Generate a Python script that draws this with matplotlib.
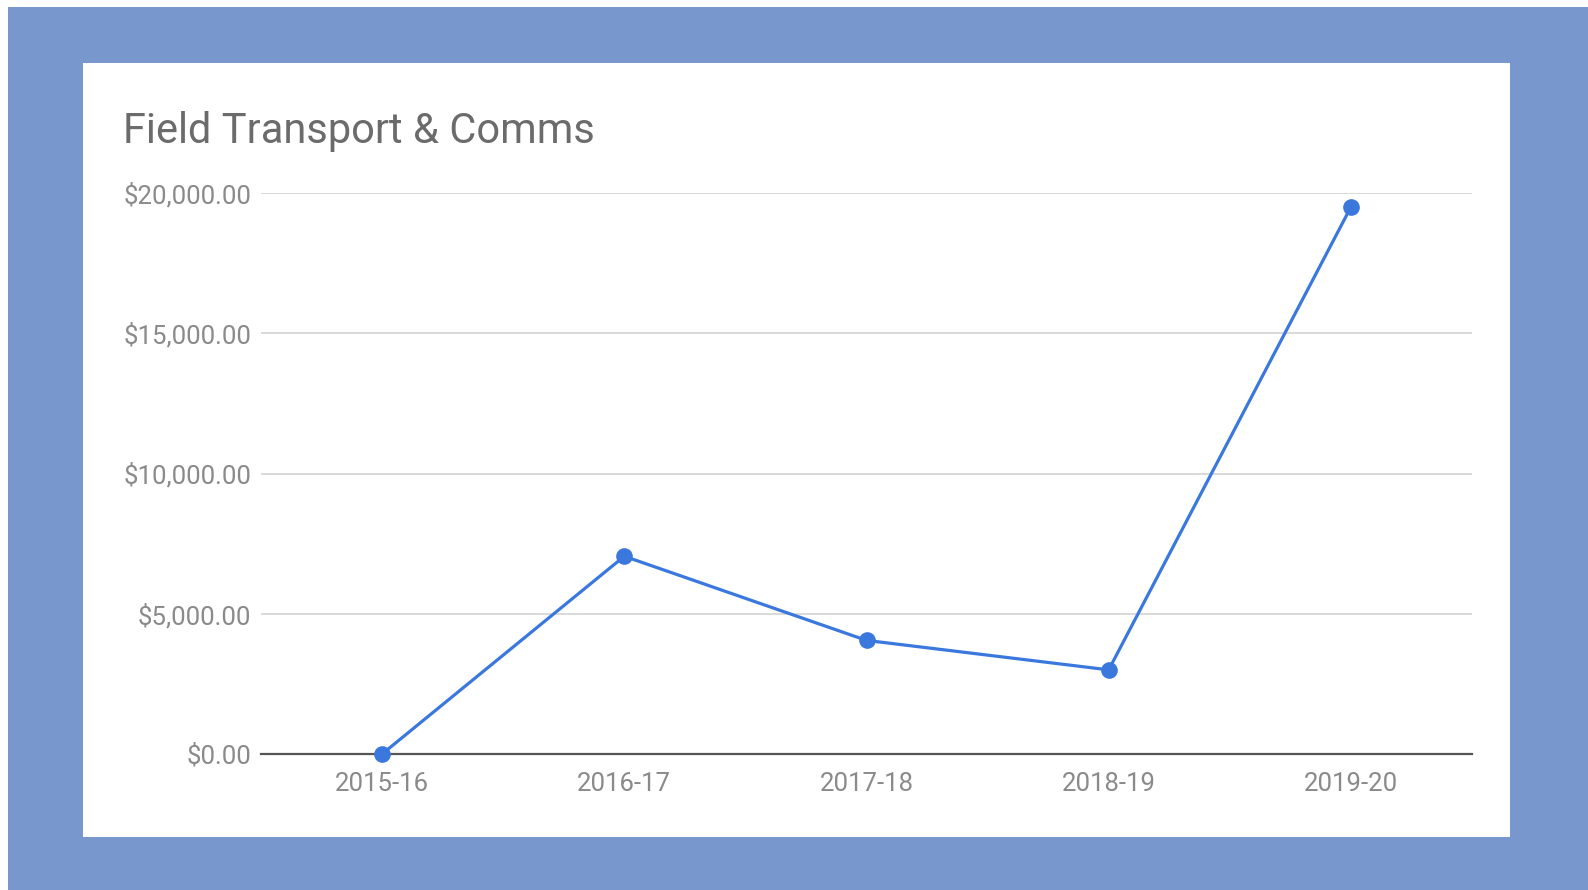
import matplotlib
matplotlib.use("Agg")
import matplotlib.pyplot as plt
from matplotlib.patches import Rectangle

# Fiscal years and spend per year
years = ["2015-16", "2016-17", "2017-18", "2018-19", "2019-20"]
spend = [0, 7050, 4050, 3000, 19500]
y_ticks = [0, 5000, 10000, 15000, 20000]

plt.rcParams["font.family"] = ["Roboto", "DejaVu Sans"]

W, H = 1588, 890
fig = plt.figure(figsize=(W / 100, H / 100), dpi=100, facecolor="white")

# Blue frame with a white card on top
fig.patches.append(Rectangle((8 / W, 0), 1 - 8 / W, 1 - 7 / H,
                             transform=fig.transFigure, facecolor="#7898cd",
                             edgecolor="none", zorder=0))
fig.patches.append(Rectangle((83 / W, 1 - 837 / H), (1510 - 83) / W, (837 - 63) / H,
                             transform=fig.transFigure, facecolor="white",
                             edgecolor="none", zorder=1))

left, right, top, bottom = 261, 1472, 193, 754
ax = fig.add_axes([left / W, 1 - bottom / H, (right - left) / W, (bottom - top) / H])
ax.set_zorder(3)
ax.set_facecolor("none")

x = list(range(len(years)))
ax.plot(x, spend, color="#3a78de", lw=2.3, marker="o", ms=12,
        markeredgewidth=0, zorder=3, clip_on=False)

ax.set_xlim(-0.5, len(years) - 0.5)
ax.set_ylim(0, 20000)
ax.set_yticks(y_ticks)
ax.set_yticklabels([f"${v:,.2f}" for v in y_ticks])
ax.set_xticks(x)
ax.set_xticklabels(years)

ax.grid(axis="y", color="#d9d9d9", lw=1.4)
ax.set_axisbelow(True)
for s in ["top", "right", "left"]:
    ax.spines[s].set_visible(False)
ax.spines["bottom"].set_color("#555555")
ax.spines["bottom"].set_linewidth(1.6)
ax.spines["bottom"].set_zorder(2)

ax.tick_params(axis="both", length=0, labelsize=18.5, labelcolor="#8a8a8a")
ax.tick_params(axis="y", pad=7)
ax.tick_params(axis="x", pad=13)

fig.text(123 / W, 1 - 132 / H, "Field Transport & Comms", fontsize=30,
         color="#6b6b6b", ha="left", va="center", zorder=4)

fig.savefig("out.png", dpi=100, facecolor=fig.get_facecolor())
